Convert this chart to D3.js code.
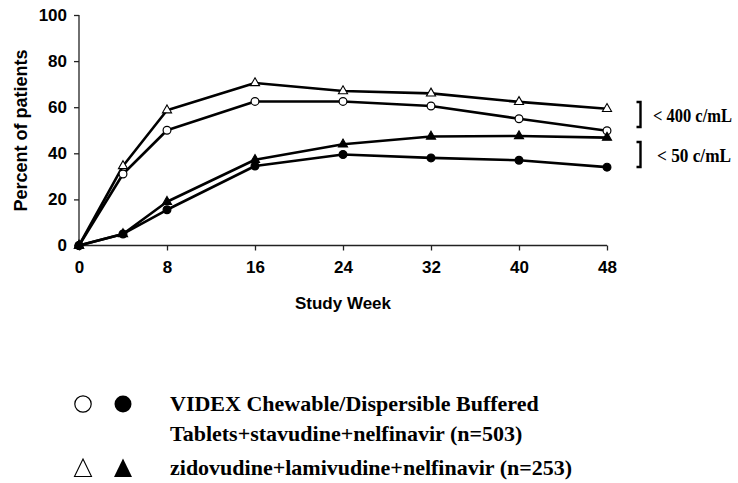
<!DOCTYPE html>
<html><head><meta charset="utf-8">
<script src="https://cdn.jsdelivr.net/npm/d3@7"></script>
<style>body{margin:0;background:#fff}svg{display:block}</style>
</head><body><svg id="c" width="738" height="483"></svg>
<script>
const weeks = [0, 4, 8, 16, 24, 32, 40, 48];
const xTicks = [0, 8, 16, 24, 32, 40, 48];
const yTicks = [0, 20, 40, 60, 80, 100];
const videx400 = [0, 31, 50, 62.5, 62.5, 60.5, 55, 49.8];
const zido400 = [0, 34.5, 58.7, 70.5, 67, 66, 62.3, 59.3];
const zido50 = [0, 5, 19, 37.2, 43.9, 47.3, 47.5, 46.8];
const videx50 = [0, 5, 15.5, 34.5, 39.5, 38, 37, 34];
const series = [
  {name: "zido400", values: zido400, shape: "tri", fill: "#fff"},
  {name: "videx400", values: videx400, shape: "circ", fill: "#fff"},
  {name: "zido50", values: zido50, shape: "tri", fill: "#000"},
  {name: "videx50", values: videx50, shape: "circ", fill: "#000"}
];
const legendLines = ["VIDEX Chewable/Dispersible Buffered", "Tablets+stavudine+nelfinavir (n=503)", "zidovudine+lamivudine+nelfinavir (n=253)"];
const bracketLabels = ["< 400 c/mL", "< 50 c/mL"];

const svg = d3.select("#c");
const x = d3.scaleLinear().domain([0, 48]).range([79, 607]);
const y = d3.scaleLinear().domain([0, 100]).range([245.5, 15]);
const sans = "'Liberation Sans', Arial, sans-serif";
const serif = "'Liberation Serif', 'Times New Roman', serif";

// axes
const xa = svg.append("g").attr("transform", `translate(0,${y(0)})`)
  .call(d3.axisBottom(x).tickValues(xTicks).tickSize(5).tickPadding(10));
const ya = svg.append("g").attr("transform", `translate(${x(0)},0)`)
  .call(d3.axisLeft(y).tickValues(yTicks).tickSize(5).tickPadding(7));
[xa, ya].forEach(g => {
  g.select(".domain").attr("stroke", "#222").attr("stroke-width", 1.3);
  g.selectAll(".tick line").attr("stroke", "#222").attr("stroke-width", 1.3);
  g.selectAll("text").attr("font-family", sans).attr("font-weight", "bold")
    .attr("font-size", 17).attr("fill", "#000");
});
xa.select(".domain").attr("d", `M${x(0)},0H${x(48)}`);
ya.select(".domain").attr("d", `M0,${y(0)}V${y(100)}`);

svg.append("text").attr("x", x(24)).attr("y", 309).attr("text-anchor", "middle")
  .attr("font-family", sans).attr("font-weight", "bold").attr("font-size", 17).text("Study Week");
svg.append("text").attr("transform", "translate(27,130.5) rotate(-90)").attr("text-anchor", "middle")
  .attr("font-family", sans).attr("font-weight", "bold").attr("font-size", 18).text("Percent of patients");

// lines
const line = d3.line().x((d, i) => x(weeks[i])).y(d => y(d));
series.forEach(s => {
  svg.append("path").attr("d", line(s.values)).attr("fill", "none")
    .attr("stroke", "#000").attr("stroke-width", 2.6).attr("stroke-linejoin", "round");
});
const triSym = d3.symbol().type(d3.symbolTriangle).size(36);
series.forEach(s => {
  const g = svg.append("g");
  s.values.forEach((v, i) => {
    if (s.shape === "circ") {
      g.append("circle").attr("cx", x(weeks[i])).attr("cy", y(v)).attr("r", 3.9)
        .attr("fill", s.fill).attr("stroke", "#000").attr("stroke-width", 1.2);
    } else {
      g.append("path").attr("d", triSym()).attr("transform", `translate(${x(weeks[i])},${y(v)})`)
        .attr("fill", s.fill).attr("stroke", "#000").attr("stroke-width", 1.1);
    }
  });
});

// brackets
const brackets = [[102, 127, 121.5, 653, 79], [142, 167, 162, 657, 74]];
brackets.forEach((b, i) => {
  svg.append("path").attr("d", `M636.5,${b[0]}H640.5V${b[1]}H636.5`)
    .attr("fill", "none").attr("stroke", "#000").attr("stroke-width", 2.4);
  svg.append("text").attr("x", b[3]).attr("y", b[2])
    .attr("textLength", b[4]).attr("lengthAdjust", "spacingAndGlyphs")
    .attr("font-family", serif).attr("font-weight", "bold").attr("font-size", 18).text(bracketLabels[i]);
});

// legend
const lg = svg.append("g");
lg.append("circle").attr("cx", 83).attr("cy", 404).attr("r", 8.2).attr("fill", "#fff").attr("stroke", "#000").attr("stroke-width", 1.2);
lg.append("circle").attr("cx", 123).attr("cy", 404).attr("r", 8.5).attr("fill", "#000");
const tri = (cx, top, bot, hw) => `M${cx},${top}L${cx + hw},${bot}L${cx - hw},${bot}Z`;
lg.append("path").attr("d", tri(83, 459, 476.5, 8.5)).attr("fill", "#fff").attr("stroke", "#000").attr("stroke-width", 1.1);
lg.append("path").attr("d", tri(123, 458.5, 477, 9)).attr("fill", "#000");
const ly = [411, 441, 475];
legendLines.forEach((t, i) => {
  lg.append("text").attr("x", 170).attr("y", ly[i]).attr("font-family", serif)
    .attr("font-weight", "bold").attr("font-size", 22).text(t);
});
</script></body></html>
